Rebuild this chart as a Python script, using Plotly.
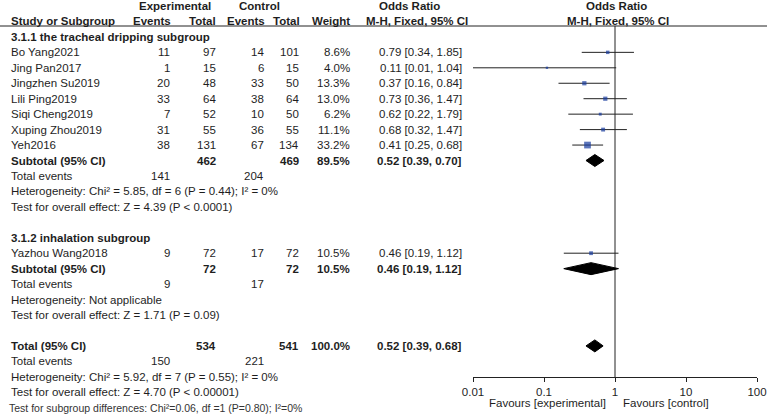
import plotly.graph_objects as go

# ---------------- data ----------------
studies1 = ["Bo Yang2021", "Jing Pan2017", "Jingzhen Su2019", "Lili Ping2019",
            "Siqi Cheng2019", "Xuping Zhou2019", "Yeh2016"]
exp_events1 = [11, 1, 20, 33, 7, 31, 38]
exp_total1 = [97, 15, 48, 64, 52, 55, 131]
ctrl_events1 = [14, 6, 33, 38, 10, 36, 67]
ctrl_total1 = [101, 15, 50, 64, 50, 55, 134]
weight1 = [8.6, 4.0, 13.3, 13.0, 6.2, 11.1, 33.2]
or1 = [0.79, 0.11, 0.37, 0.73, 0.62, 0.68, 0.41]
lo1 = [0.34, 0.01, 0.16, 0.36, 0.22, 0.32, 0.25]
hi1 = [1.85, 1.04, 0.84, 1.47, 1.79, 1.47, 0.68]

studies2 = ["Yazhou Wang2018"]
exp_events2 = [9]
exp_total2 = [72]
ctrl_events2 = [17]
ctrl_total2 = [72]
weight2 = [10.5]
or2 = [0.46]
lo2 = [0.19]
hi2 = [1.12]

# subtotal / total: [exp_total, ctrl_total, weight, or, lo, hi, exp_events, ctrl_events]
sub1 = [462, 469, 89.5, 0.52, 0.39, 0.70, 141, 204]
sub2 = [72, 72, 10.5, 0.46, 0.19, 1.12, 9, 17]
total = [534, 541, 100.0, 0.52, 0.39, 0.68, 150, 221]

het1 = "Heterogeneity: Chi² = 5.85, df = 6 (P = 0.44); I² = 0%"
eff1 = "Test for overall effect: Z = 4.39 (P < 0.0001)"
het2 = "Heterogeneity: Not applicable"
eff2 = "Test for overall effect: Z = 1.71 (P = 0.09)"
het_t = "Heterogeneity: Chi² = 5.92, df = 7 (P = 0.55); I² = 0%"
eff_t = "Test for overall effect: Z = 4.70 (P < 0.00001)"
subdiff = "Test for subgroup differences: Chi²=0.06, df =1 (P=0.80); I²=0%"

tickvals = [0.01, 0.1, 1, 10, 100]
ticktext = ["0.01", "0.1", "1", "10", "100"]

# ---------------- layout helpers ----------------
W, H = 767, 420
FONT = "Liberation Sans, Arial, sans-serif"
TXT = "#1e1e1e"
FS = 11.5


def ry(k):
    return 6 + 15.45 * k


annotations = []


def txt(x, k, s, anchor="left", bold=False, size=FS, color=TXT, y=None):
    if bold:
        s = "<b>" + s + "</b>"
    annotations.append(dict(
        x=x / W, y=ry(k) if y is None else y, xref="paper", yref="y", text=s,
        showarrow=False, xanchor=anchor, yanchor="middle",
        font=dict(family=FONT, size=size, color=color)))


# column right edges (px)
C_EE, C_ET, C_CE, C_CT, C_W, C_OR = 172, 218, 266, 301, 352, 464
LX = 9

# headers
txt(175, 0, "Experimental", "center", True)
txt(259, 0, "Control", "center", True)
txt(409, 0, "Odds Ratio", "center", True)
txt(616, 0, "Odds Ratio", "center", True)
txt(LX, 1, "Study or Subgroup", "left", True)
txt(C_EE + 1, 1, "Events", "right", True)
txt(C_ET, 1, "Total", "right", True)
txt(C_CE + 1, 1, "Events", "right", True)
txt(C_CT + 1, 1, "Total", "right", True)
txt(C_W, 1, "Weight", "right", True)
txt(417, 1, "M-H, Fixed, 95% CI", "center", True)
txt(618, 1, "M-H, Fixed, 95% CI", "center", True)


def study_rows(start, names, ee, et, ce, ct, w, o, l, h):
    for i, n in enumerate(names):
        k = start + i
        txt(LX, k, n)
        txt(C_EE, k, str(ee[i]), "right")
        txt(C_ET, k, str(et[i]), "right")
        txt(C_CE, k, str(ce[i]), "right")
        txt(C_CT, k, str(ct[i]), "right")
        txt(C_W, k, f"{w[i]:.1f}%", "right")
        txt(C_OR, k, f"{o[i]:.2f} [{l[i]:.2f}, {h[i]:.2f}]", "right")


def summary_rows(k, label, s, het, eff):
    txt(LX, k, label, "left", True)
    txt(C_ET, k, str(s[0]), "right", True)
    txt(C_CT, k, str(s[1]), "right", True)
    txt(C_W, k, f"{s[2]:.1f}%", "right", True)
    txt(C_OR, k, f"{s[3]:.2f} [{s[4]:.2f}, {s[5]:.2f}]", "right", True)
    txt(LX, k + 1, "Total events")
    txt(C_EE, k + 1, str(s[6]), "right")
    txt(C_CE, k + 1, str(s[7]), "right")
    txt(LX, k + 2, het)
    txt(LX, k + 3, eff)


txt(LX, 2, "3.1.1 the tracheal dripping subgroup", "left", True)
study_rows(3, studies1, exp_events1, exp_total1, ctrl_events1, ctrl_total1, weight1, or1, lo1, hi1)
summary_rows(10, "Subtotal (95% CI)", sub1, het1, eff1)
txt(LX, 15, "3.1.2 inhalation subgroup", "left", True)
study_rows(16, studies2, exp_events2, exp_total2, ctrl_events2, ctrl_total2, weight2, or2, lo2, hi2)
summary_rows(17, "Subtotal (95% CI)", sub2, het2, eff2)
summary_rows(22, "Total (95% CI)", total, het_t, eff_t)
txt(7, 26, subdiff, "left", False, 10.5, "#333333", y=408)

# favours labels
txt(608, 0, "Favours [experimental]", "right", size=11.5, y=403)
txt(621, 0, "Favours [control]", "left", size=11.5, y=403)

# ---------------- traces ----------------
fig = go.Figure()

all_or = or1 + or2
all_lo = lo1 + lo2
all_hi = hi1 + hi2
all_w = weight1 + weight2
all_k = [3 + i for i in range(len(or1))] + [16 + i for i in range(len(or2))]

AXIS_Y = 377

# CI lines
cx, cy = [], []
for l, h, k in zip(all_lo, all_hi, all_k):
    cx += [l, h, None]
    cy += [ry(k), ry(k), None]
fig.add_trace(go.Scatter(x=cx, y=cy, mode="lines", line=dict(color="#222222", width=1),
                         hoverinfo="skip"))

# null line
fig.add_trace(go.Scatter(x=[1, 1], y=[26, AXIS_Y], mode="lines",
                         line=dict(color="#222222", width=1), hoverinfo="skip"))

# squares
fig.add_trace(go.Scatter(
    x=all_or, y=[ry(k) for k in all_k], mode="markers",
    marker=dict(symbol="square", color="#173a9e",
                size=[1.17 * w ** 0.5 for w in all_w], line=dict(width=0)),
    hoverinfo="skip"))

# diamonds
for s, k in [(sub1, 10), (sub2, 17), (total, 22)]:
    hh = 6
    o, l, h = s[3], s[4], s[5]
    fig.add_trace(go.Scatter(
        x=[l, o, h, o, l], y=[ry(k), ry(k) - hh, ry(k), ry(k) + hh, ry(k)],
        mode="lines", fill="toself", fillcolor="black",
        line=dict(color="black", width=1), hoverinfo="skip"))

# header rule
shapes = [dict(type="line", xref="paper", yref="y", x0=0, x1=1, y0=26, y1=26,
               line=dict(color="#222222", width=1))]

fig.update_layout(
    width=W, height=H, margin=dict(l=0, r=0, t=0, b=0, autoexpand=False),
    paper_bgcolor="white", plot_bgcolor="white", showlegend=False,
    annotations=annotations, shapes=shapes,
    xaxis=dict(type="log", range=[-2, 2], domain=[473 / W, 757 / W],
               anchor="free", position=(H - AXIS_Y) / H, automargin=False,
               showline=True, linecolor="#222222", linewidth=1,
               ticks="outside", ticklen=4, tickcolor="#222222",
               tickvals=tickvals, ticktext=ticktext, showgrid=False, zeroline=False,
               tickfont=dict(family=FONT, size=11.5, color=TXT), fixedrange=True),
    yaxis=dict(range=[H, 0], domain=[0, 1], visible=False, showgrid=False,
               zeroline=False, fixedrange=True, automargin=False),
)

fig.write_html("out.html", config={"displayModeBar": False},
               post_script="document.body.style.margin='0';")
